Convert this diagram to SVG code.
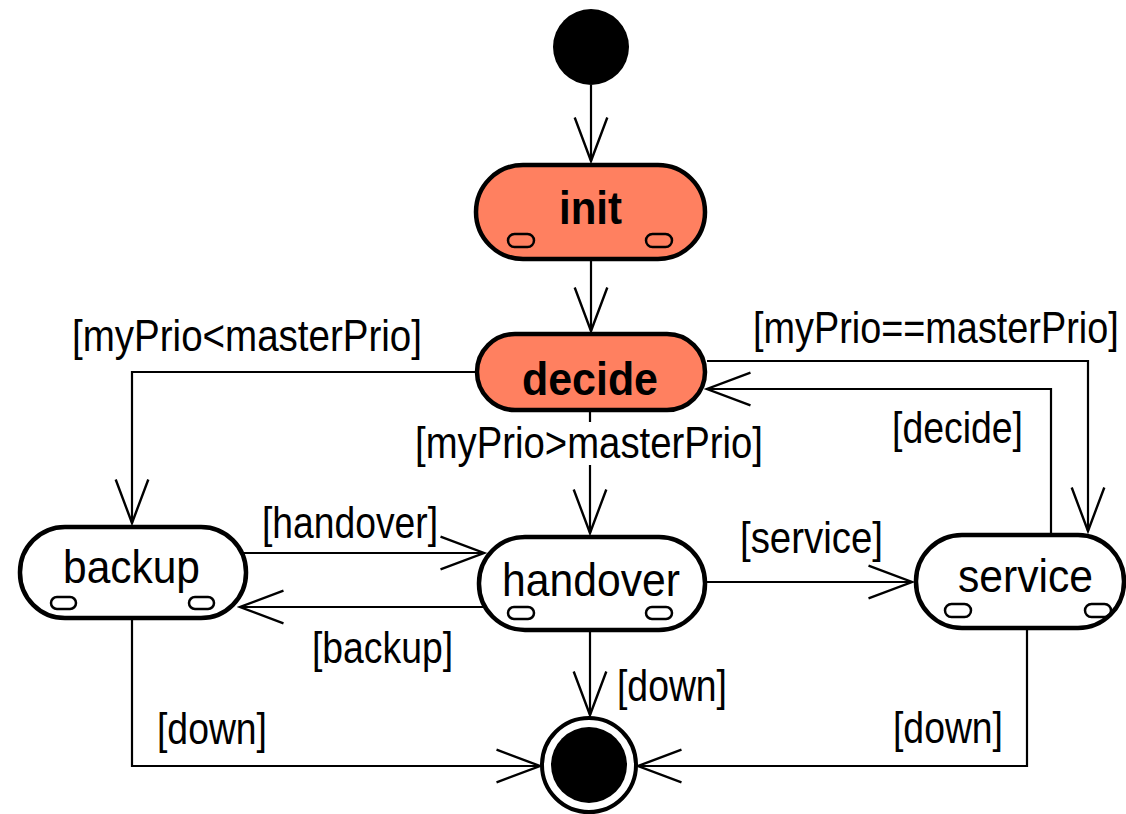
<svg xmlns="http://www.w3.org/2000/svg" width="1126" height="814" viewBox="0 0 1126 814">
  <style>
    .state { fill: #ffffff; stroke: #000000; stroke-width: 4.5; }
    .active { fill: #ff8060; }
    .slot { fill: none; stroke: #000000; stroke-width: 2.5; }
    .name { font-family: "Liberation Sans", Arial, sans-serif; font-size: 46px; fill: #000000; text-anchor: start; }
    .bold { font-weight: bold; }
    .guard { font-family: "Liberation Sans", Arial, sans-serif; font-size: 44px; fill: #000000; }
    .edge { fill: none; stroke: #000000; stroke-width: 2.2; }
  </style>
  <defs>
    <marker id="open" markerUnits="userSpaceOnUse" markerWidth="50" markerHeight="40" viewBox="-42 -18 46 36" refX="0" refY="0" orient="auto">
      <path d="M-40,-15 L0,0 L-40,15" fill="none" stroke="#000000" stroke-width="2.2"/>
    </marker>
  </defs>
  <rect width="1126" height="814" fill="#ffffff"/>

  <!-- transitions -->
  <g id="connectors">
    <path class="edge" d="M591 85 V161" marker-end="url(#open)"/>
    <path class="edge" d="M591 261 V331" marker-end="url(#open)"/>
    <path class="edge" d="M475 372 H132 V523" marker-end="url(#open)"/>
    <path class="edge" d="M707 361 H1088 V531" marker-end="url(#open)"/>
    <path class="edge" d="M1051 533 V389 H707" marker-end="url(#open)"/>
    <path class="edge" d="M590 412 V422"/>
    <path class="edge" d="M590 465 V533" marker-end="url(#open)"/>
    <path class="edge" d="M244 553 H484" marker-end="url(#open)"/>
    <path class="edge" d="M484 607 H240" marker-end="url(#open)"/>
    <path class="edge" d="M707 582 H912" marker-end="url(#open)"/>
    <path class="edge" d="M132 620 V766 H540" marker-end="url(#open)"/>
    <path class="edge" d="M590 632 V715" marker-end="url(#open)"/>
    <path class="edge" d="M1027 630 V766 H638" marker-end="url(#open)"/>

    <text class="guard" x="72" y="351" textLength="350" lengthAdjust="spacingAndGlyphs">[myPrio&lt;masterPrio]</text>
    <text class="guard" transform="translate(753 343) scale(0.86 1)" x="0" y="0">[myPrio==masterPrio]</text>
    <text class="guard" x="415" y="458" textLength="348" lengthAdjust="spacingAndGlyphs">[myPrio&gt;masterPrio]</text>
    <text class="guard" x="892" y="443" textLength="131" lengthAdjust="spacingAndGlyphs">[decide]</text>
    <text class="guard" x="262" y="538" textLength="176" lengthAdjust="spacingAndGlyphs">[handover]</text>
    <text class="guard" x="312" y="663" textLength="141" lengthAdjust="spacingAndGlyphs">[backup]</text>
    <text class="guard" x="740" y="553" textLength="143" lengthAdjust="spacingAndGlyphs">[service]</text>
    <text class="guard" x="157" y="744" textLength="110" lengthAdjust="spacingAndGlyphs">[down]</text>
    <text class="guard" x="617" y="701" textLength="110" lengthAdjust="spacingAndGlyphs">[down]</text>
    <text class="guard" x="893" y="743" textLength="110" lengthAdjust="spacingAndGlyphs">[down]</text>
  </g>

  <g id="start">
    <circle cx="591" cy="47" r="38" fill="#000000"/>
  </g>

  <g id="init">
    <rect class="state active" x="476" y="165" width="229" height="94" rx="47"/>
    <rect class="slot" x="508" y="234" width="26" height="13" rx="6.5"/>
    <rect class="slot" x="646" y="234" width="26" height="13" rx="6.5"/>
    <text class="name bold" x="559" y="224" font-size="50" textLength="63" lengthAdjust="spacingAndGlyphs">init</text>
  </g>

  <g id="decide">
    <rect class="state active" x="477" y="334" width="228" height="76" rx="38"/>
    <text class="name bold" x="522" y="395" font-size="56" textLength="136" lengthAdjust="spacingAndGlyphs">decide</text>
  </g>

  <g id="backup">
    <rect class="state" x="20" y="527" width="226" height="91" rx="45"/>
    <rect class="slot" x="51" y="597" width="25" height="12" rx="6"/>
    <rect class="slot" x="189" y="597" width="25" height="12" rx="6"/>
    <text class="name" x="63" y="583" textLength="137" lengthAdjust="spacingAndGlyphs">backup</text>
  </g>

  <g id="handover">
    <rect class="state" x="479" y="537" width="226" height="93" rx="46"/>
    <rect class="slot" x="508" y="607" width="26" height="12" rx="6"/>
    <rect class="slot" x="646" y="607" width="26" height="12" rx="6"/>
    <text class="name" x="502" y="596" textLength="178" lengthAdjust="spacingAndGlyphs">handover</text>
  </g>

  <g id="service">
    <rect class="state" x="916" y="535" width="208" height="93" rx="46"/>
    <rect class="slot" x="945" y="604" width="26" height="13" rx="6.5"/>
    <rect class="slot" x="1085" y="604" width="26" height="13" rx="6.5"/>
    <text class="name" x="958" y="592" textLength="135" lengthAdjust="spacingAndGlyphs">service</text>
  </g>

  <g id="final">
    <circle cx="589" cy="765" r="47" fill="#ffffff" stroke="#000000" stroke-width="4"/>
    <circle cx="589" cy="765" r="38" fill="#000000"/>
  </g>
</svg>
